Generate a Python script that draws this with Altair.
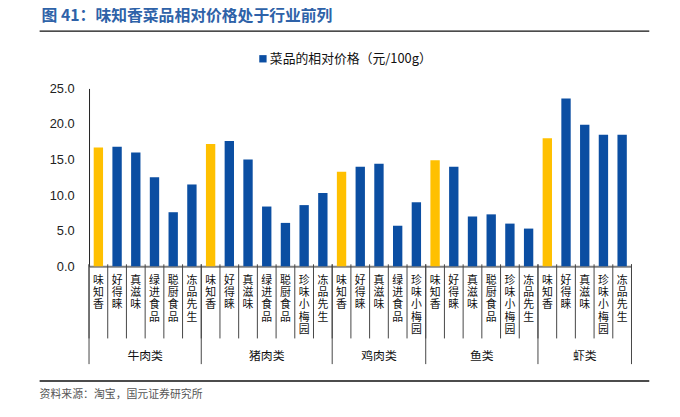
import altair as alt
import pandas as pd

groups = ["牛肉类", "猪肉类", "鸡肉类", "鱼类", "虾类"]
brands = [
    ["味知香", "好得睐", "真滋味", "绿进食品", "聪厨食品", "冻品先生"],
    ["味知香", "好得睐", "真滋味", "绿进食品", "聪厨食品", "珍味小梅园", "冻品先生"],
    ["味知香", "好得睐", "真滋味", "绿进食品", "珍味小梅园"],
    ["味知香", "好得睐", "真滋味", "聪厨食品", "珍味小梅园", "冻品先生"],
    ["味知香", "好得睐", "真滋味", "珍味小梅园", "冻品先生"],
]
values = [
    [16.7, 16.8, 16.0, 12.5, 7.6, 11.5],
    [17.2, 17.6, 15.0, 8.4, 6.1, 8.6, 10.3],
    [13.3, 14.0, 14.4, 5.7, 9.0],
    [14.9, 14.0, 7.0, 7.3, 6.0, 5.3],
    [18.0, 23.6, 19.9, 18.5, 18.5],
]
y_ticks = [0, 5, 10, 15, 20, 25]
title_text = "图 41：味知香菜品相对价格处于行业前列"
legend_text = "菜品的相对价格（元/100g）"
source_text = "资料来源：淘宝，国元证券研究所"

rows = []
for g, bs, vs in zip(groups, brands, values):
    for b, v in zip(bs, vs):
        rows.append({"key": f"{g}|{b}", "group": g, "brand": b, "value": v,
                     "hl": "味知香" if b == "味知香" else "其他"})
df = pd.DataFrame(rows)
order = list(df["key"])
n = len(order)

sizes = [len(b) for b in brands]
cum = [0]
for s in sizes:
    cum.append(cum[-1] + s)
all_bounds = pd.DataFrame({"pos": list(range(n + 1))})
group_bounds = pd.DataFrame({"pos": cum})
group_centers = pd.DataFrame({"pos": [(cum[i] + cum[i + 1]) / 2 for i in range(len(groups))],
                              "group": groups})

W, H = 549, 180
CJK = "Noto Sans CJK SC"
qx = alt.Scale(domain=[0, n], nice=False, zero=False)

bars = alt.Chart(df).mark_bar(width={"band": 1}).encode(
    x=alt.X("key:N", sort=order, title=None,
            scale=alt.Scale(paddingInner=0.5, paddingOuter=0.25),
            axis=alt.Axis(labelExpr="split(split(datum.value, '|')[1], '')",
                          labelAngle=0, labelBaseline="top", labelAlign="center",
                          labelFont=CJK, labelFontSize=11, labelLineHeight=12.6,
                          labelColor="#111", labelPadding=8, ticks=False,
                          domainColor="#808080", domainWidth=2)),
    y=alt.Y("value:Q", title=None,
            scale=alt.Scale(domain=[0, 25], nice=False),
            axis=alt.Axis(values=y_ticks, format=".1f", grid=False, ticks=False,
                          labelFont="Liberation Sans", labelFontSize=13,
                          labelColor="#222", labelPadding=15,
                          domainColor="#222", domainWidth=1)),
    color=alt.Color("hl:N", legend=None,
                    scale=alt.Scale(domain=["味知香", "其他"], range=["#FFC000", "#0B4EA2"])),
)

short_rules = alt.Chart(all_bounds).mark_rule(color="#444", strokeWidth=1).encode(
    x=alt.X("pos:Q", scale=qx, axis=None),
    y=alt.value(H - 2), y2=alt.value(H + 73),
)
long_rules = alt.Chart(group_bounds).mark_rule(color="#444", strokeWidth=1).encode(
    x=alt.X("pos:Q", scale=qx, axis=None),
    y=alt.value(H - 2), y2=alt.value(H + 99),
)
group_text = alt.Chart(group_centers).mark_text(font=CJK, fontSize=12, color="#111",
                                                baseline="middle").encode(
    x=alt.X("pos:Q", scale=qx, axis=None),
    y=alt.value(H + 91),
    text="group:N",
)

one = pd.DataFrame({"a": [0]})
title_line = alt.Chart(one).mark_rule(color="#111", strokeWidth=1.5).encode(
    x=alt.value(-50), x2=alt.value(567), y=alt.value(-58))
foot_line = alt.Chart(one).mark_rule(color="#111", strokeWidth=1.5).encode(
    x=alt.value(-50), x2=alt.value(567), y=alt.value(296))
source = alt.Chart(one).mark_text(font=CJK, fontSize=11, color="#555",
                                  align="left", baseline="middle").encode(
    x=alt.value(-50), y=alt.value(310), text=alt.value(source_text))
leg_sq = alt.Chart(one).mark_square(size=55, color="#0B4EA2", opacity=1).encode(
    x=alt.value(176), y=alt.value(-30))
leg_tx = alt.Chart(one).mark_text(font=CJK, fontSize=13, color="#111",
                                  align="left", baseline="middle").encode(
    x=alt.value(183), y=alt.value(-30), text=alt.value(legend_text))

chart = alt.layer(bars, short_rules, long_rules, group_text, title_line,
                  foot_line, source, leg_sq, leg_tx).resolve_scale(x="independent").properties(
    width=W, height=H,
    title=alt.TitleParams(title_text, anchor="start", frame="group", dx=-48, offset=7,
                          font=CJK, fontSize=16, fontWeight="bold", color="#2E62A8"),
    autosize=alt.AutoSizeParams(type="none"),
    padding={"left": 82, "top": 79, "right": 41, "bottom": 140},
).configure_view(stroke=None)

chart.save("out.html", embed_options={"renderer": "svg", "actions": False})
